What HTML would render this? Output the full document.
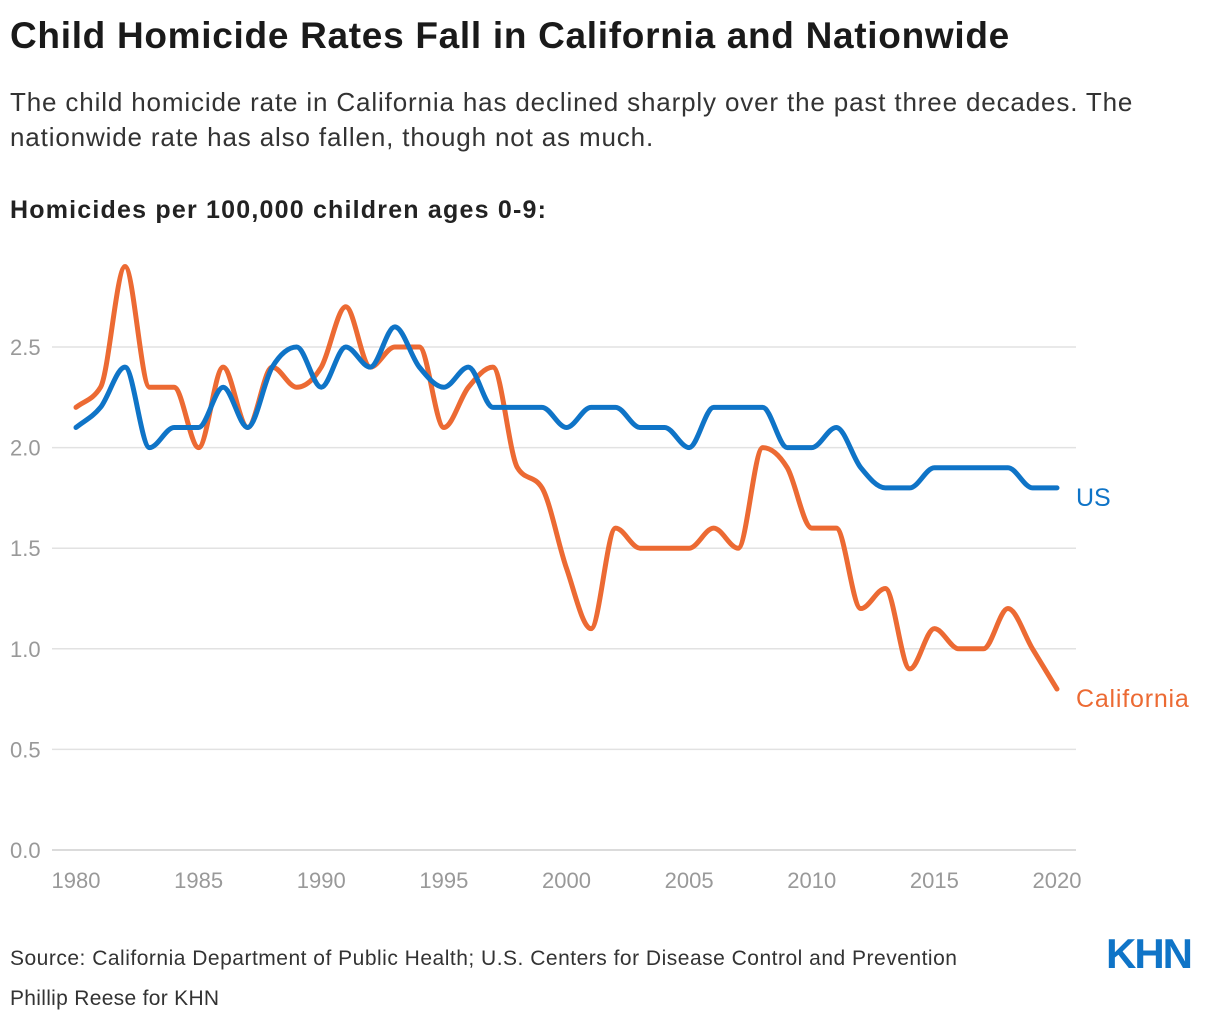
<!DOCTYPE html>
<html><head><meta charset="utf-8"><style>
body{margin:0;background:#fff;width:1220px;height:1022px;overflow:hidden;font-family:"Liberation Sans",sans-serif;color:#222}
.t{position:absolute;left:10px;white-space:nowrap}
</style></head><body>
<div class="t" style="top:15px;font-size:37px;font-weight:bold;color:#1a1a1a;letter-spacing:0.7px">Child Homicide Rates Fall in California and Nationwide</div>
<div class="t" style="top:85px;font-size:26px;line-height:35px;color:#333;letter-spacing:0.85px">The child homicide rate in California has declined sharply over the past three decades. The<br>nationwide rate has also fallen, though not as much.</div>
<div class="t" style="top:196px;font-size:25px;font-weight:bold;color:#222;letter-spacing:1.2px">Homicides per 100,000 children ages 0-9:</div>
<svg id="chart" width="1220" height="1022" style="position:absolute;left:0;top:0"></svg>
<div class="t" style="top:947px;font-size:21px;color:#333;letter-spacing:0.5px">Source: California Department of Public Health; U.S. Centers for Disease Control and Prevention</div>
<div class="t" style="top:987px;font-size:21px;color:#333;letter-spacing:0.3px">Phillip Reese for KHN</div>
<div style="position:absolute;left:1106px;top:930px;font-size:42px;font-weight:bold;color:#0f74c7;letter-spacing:-2px;font-family:'Liberation Sans',sans-serif">KHN</div>
<script>
const years=[];for(let y=1980;y<=2020;y++)years.push(y);
const usValues=[2.1,2.2,2.4,2.0,2.1,2.1,2.3,2.1,2.4,2.5,2.3,2.5,2.4,2.6,2.4,2.3,2.4,2.2,2.2,2.2,2.1,2.2,2.2,2.1,2.1,2.0,2.2,2.2,2.2,2.0,2.0,2.1,1.9,1.8,1.8,1.9,1.9,1.9,1.9,1.8,1.8];
const caValues=[2.2,2.3,2.9,2.3,2.3,2.0,2.4,2.1,2.4,2.3,2.4,2.7,2.4,2.5,2.5,2.1,2.3,2.4,1.9,1.8,1.4,1.1,1.6,1.5,1.5,1.5,1.6,1.5,2.0,1.9,1.6,1.6,1.2,1.3,0.9,1.1,1.0,1.0,1.2,1.0,0.8];
const yTicks=[0,0.5,1,1.5,2,2.5];
const xTicks=[1980,1985,1990,1995,2000,2005,2010,2015,2020];
const svg=document.getElementById('chart');const NS='http://www.w3.org/2000/svg';
const X=v=>76+(v-1980)*(1057-76)/40;
const Y=v=>850-v*(850-347)/2.5;
function mk(t,a){const e=document.createElementNS(NS,t);for(const k in a)e.setAttribute(k,a[k]);svg.appendChild(e);return e;}
yTicks.forEach(v=>{
 const l=mk('line',{x1:52,x2:1076,y1:Y(v),y2:Y(v),stroke:v===0?'#cfcfcf':'#e2e2e2','stroke-width':1.5});
 
 
 const t=mk('text',{x:10,y:Y(v)+8,'font-size':22,fill:'#999','font-family':'Liberation Sans'});t.textContent=v.toFixed(1);
 
 
});
xTicks.forEach(v=>{
 const t=mk('text',{x:X(v),y:888,'font-size':22,fill:'#999','text-anchor':'middle','font-family':'Liberation Sans'});t.textContent=v;
 
 
});
function monotone(xs,ys){const n=xs.length,d=[],m=[];
 for(let i=0;i<n-1;i++)d.push((ys[i+1]-ys[i])/(xs[i+1]-xs[i]));
 for(let i=0;i<n;i++){if(i===0)m.push(d[0]);else if(i===n-1)m.push(d[n-2]);else{const a=d[i-1],b=d[i];if(a*b<=0)m.push(0);else{const h0=xs[i]-xs[i-1],h1=xs[i+1]-xs[i];const p=(a*h1+b*h0)/(h0+h1);m.push(Math.sign(a)*Math.min(Math.abs(a),Math.abs(b),Math.abs(p)/2)*2>Math.abs(p)?p:Math.sign(a)*2*Math.min(Math.abs(a),Math.abs(b),Math.abs(p)/2));}}}
 let s='M'+xs[0]+','+ys[0];
 for(let i=0;i<n-1;i++){const h=(xs[i+1]-xs[i])/3;s+='C'+(xs[i]+h)+','+(ys[i]+m[i]*h)+' '+(xs[i+1]-h)+','+(ys[i+1]-m[i+1]*h)+' '+xs[i+1]+','+ys[i+1];}
 return s;}
function line(vals,color,name){const p=mk('path',{d:monotone(years.map(X),vals.map(Y)),fill:'none',stroke:color,'stroke-width':5,'stroke-linecap':'round','stroke-linejoin':'round'});
 
 }
line(caValues,'#ec6a33','california-line');
line(usValues,'#0f74c7','us-line');
const l1=mk('text',{x:1076,y:Y(usValues[40])+18,'font-size':25,fill:'#0f74c7','font-family':'Liberation Sans'});l1.textContent='US';


const l2=mk('text',{x:1076,y:Y(caValues[40])+18,'font-size':25,fill:'#ec6a33','font-family':'Liberation Sans','letter-spacing':'0.8'});l2.textContent='California';


</script>
</body></html>
